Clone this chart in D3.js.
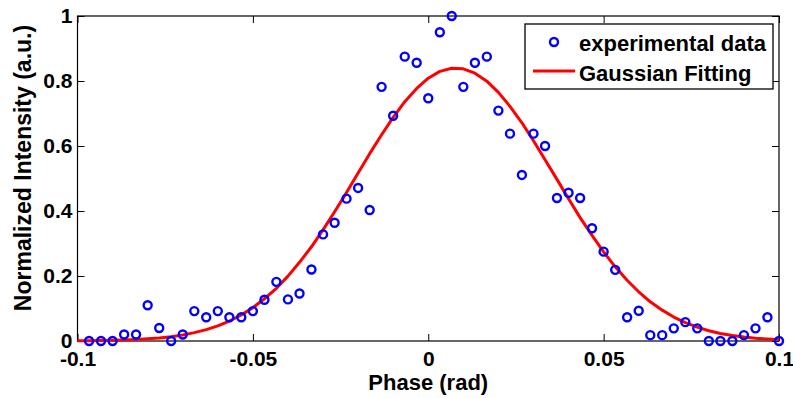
<!DOCTYPE html>
<html>
<head>
<meta charset="utf-8">
<script src="https://cdn.jsdelivr.net/npm/d3@7"></script>
<style>
  html, body { margin: 0; padding: 0; background: #fff; }
  svg { display: block; }
  text { font-family: "Liberation Sans", Arial, sans-serif; font-weight: bold; fill: #000; }
</style>
</head>
<body>
<svg id="chart"></svg>
<script>
// Phase samples (rad) shared by the measurement and the fit
const phase = [
  -0.0967, -0.0933, -0.09, -0.0867, -0.0833, -0.08, -0.0767, -0.0733, -0.07, -0.0667,
  -0.0633, -0.06, -0.0567, -0.0533, -0.05, -0.0467, -0.0433, -0.04, -0.0367, -0.0333,
  -0.03, -0.0267, -0.0233, -0.02, -0.0167, -0.0133, -0.01, -0.0067, -0.0033, 0,
  0.0033, 0.0067, 0.01, 0.0133, 0.0167, 0.02, 0.0233, 0.0267, 0.03, 0.0333,
  0.0367, 0.04, 0.0433, 0.0467, 0.05, 0.0533, 0.0567, 0.06, 0.0633, 0.0667,
  0.07, 0.0733, 0.0767, 0.08, 0.0833, 0.0867, 0.09, 0.0933, 0.0967, 0.1
];

// Measured normalized intensity (blue circles)
const experimental = [
  0, 0, 0, 0.02, 0.02, 0.11, 0.04, 0, 0.02, 0.092,
  0.073, 0.092, 0.073, 0.073, 0.092, 0.127, 0.182, 0.128, 0.146, 0.22,
  0.328, 0.364, 0.438, 0.471, 0.403, 0.782, 0.693, 0.875, 0.856, 0.747,
  0.95, 1.0, 0.782, 0.856, 0.875, 0.709, 0.638, 0.511, 0.638, 0.6,
  0.44, 0.456, 0.44, 0.347, 0.275, 0.219, 0.073, 0.093, 0.018, 0.018,
  0.039, 0.058, 0.039, 0, 0, 0, 0.018, 0.039, 0.073, 0
];

// Gaussian fit (red line), read at the same phases, plus the left edge
const fitPhase = [-0.1].concat(phase);
const fitted = [
  0.0006,
  0.0009, 0.0014, 0.0021, 0.0031, 0.0045, 0.0066, 0.0094, 0.0134, 0.0187, 0.0257,
  0.0349, 0.0466, 0.0615, 0.0801, 0.1027, 0.13, 0.1623, 0.1996, 0.2421, 0.2899,
  0.342, 0.3979, 0.4566, 0.5166, 0.5764, 0.6344, 0.6882, 0.7363, 0.777, 0.8085,
  0.8295, 0.8393, 0.8374, 0.824, 0.7994, 0.7649, 0.7218, 0.6715, 0.6161, 0.5575,
  0.4973, 0.4376, 0.3797, 0.3248, 0.2741, 0.2281, 0.1871, 0.1514, 0.1207, 0.0949,
  0.0737, 0.0564, 0.0425, 0.0316, 0.0232, 0.0168, 0.012, 0.0084, 0.0058, 0.004
];

const xTicks = [-0.1, -0.05, 0, 0.05, 0.1];
const xTickLabels = ['-0.1', '-0.05', '0', '0.05', '0.1'];
const yTicks = [0, 0.2, 0.4, 0.6, 0.8, 1];
const yTickLabels = ['0', '0.2', '0.4', '0.6', '0.8', '1'];

const legendLabels = ['experimental data', 'Gaussian Fitting'];

(function() {
  'use strict';

  const width = 793;
  const height = 398;
  const plot = { left: 77.5, right: 779, top: 16, bottom: 341 };
  const tickLen = 7;

  const svg = d3.select('#chart')
    .attr('width', width)
    .attr('height', height);

  svg.append('rect')
    .attr('width', width)
    .attr('height', height)
    .style('fill', '#fff');

  const x = d3.scaleLinear().domain([-0.1, 0.1]).range([plot.left, plot.right]);
  const y = d3.scaleLinear().domain([0, 1]).range([plot.bottom, plot.top]);

  // ---- axes (inward ticks on all four sides) ----
  const bottomAxis = d3.axisBottom(x).tickValues(xTicks)
    .tickSize(-tickLen).tickPadding(10)
    .tickFormat((d, i) => xTickLabels[i]);
  const topAxis = d3.axisTop(x).tickValues(xTicks)
    .tickSize(-tickLen).tickFormat('');
  const leftAxis = d3.axisLeft(y).tickValues(yTicks)
    .tickSize(-tickLen).tickPadding(5)
    .tickFormat((d, i) => yTickLabels[i]);
  const rightAxis = d3.axisRight(y).tickValues(yTicks)
    .tickSize(-tickLen).tickFormat('');

  function styleAxis(g) {
    g.select('.domain').remove();
    g.selectAll('.tick line').style('stroke', '#000').style('stroke-width', 1);
    g.selectAll('.tick text')
      .style('font-size', '21px')
      .style('font-family', '"Liberation Sans", Arial, sans-serif')
      .style('font-weight', 'bold')
      .style('fill', '#000');
  }

  svg.append('g').attr('transform', `translate(0,${plot.bottom})`).call(bottomAxis).call(styleAxis);
  svg.append('g').attr('transform', `translate(0,${plot.top})`).call(topAxis).call(styleAxis);
  svg.append('g').attr('transform', `translate(${plot.left},0)`).call(leftAxis).call(styleAxis);
  svg.append('g').attr('transform', `translate(${plot.right},0)`).call(rightAxis).call(styleAxis);

  // frame
  svg.append('rect')
    .attr('x', plot.left)
    .attr('y', plot.top)
    .attr('width', plot.right - plot.left)
    .attr('height', plot.bottom - plot.top)
    .style('fill', 'none')
    .style('stroke', '#000')
    .style('stroke-width', 1.2);

  // ---- Gaussian fit ----
  const line = d3.line()
    .x((d, i) => x(fitPhase[i]))
    .y(d => y(d));

  svg.append('path')
    .datum(fitted)
    .attr('d', line)
    .style('fill', 'none')
    .style('stroke', '#ff0000')
    .style('stroke-width', 3)
    .style('stroke-linejoin', 'round');

  // ---- experimental points ----
  svg.append('g')
    .selectAll('circle')
    .data(experimental)
    .join('circle')
    .attr('cx', (d, i) => x(phase[i]))
    .attr('cy', d => y(d))
    .attr('r', 4)
    .style('fill', 'none')
    .style('stroke', '#0000ff')
    .style('stroke-width', 2.4);

  // ---- axis titles ----
  svg.append('text')
    .attr('x', x(0))
    .attr('y', 390)
    .attr('text-anchor', 'middle')
    .style('font-size', '22px')
    .text('Phase (rad)');

  svg.append('text')
    .attr('transform', 'translate(31,168) rotate(-90)')
    .attr('text-anchor', 'middle')
    .style('font-size', '23px')
    .text('Normalized Intensity (a.u.)');

  // ---- legend ----
  const legend = svg.append('g').attr('transform', 'translate(525,24)');

  legend.append('rect')
    .attr('width', 248)
    .attr('height', 65)
    .style('fill', '#fff')
    .style('stroke', '#000')
    .style('stroke-width', 1.3);

  legend.append('circle')
    .attr('cx', 29)
    .attr('cy', 18)
    .attr('r', 4)
    .style('fill', 'none')
    .style('stroke', '#0000ff')
    .style('stroke-width', 2.4);

  legend.append('line')
    .attr('x1', 8)
    .attr('x2', 50)
    .attr('y1', 47)
    .attr('y2', 47)
    .style('stroke', '#ff0000')
    .style('stroke-width', 3);

  legend.selectAll('text.label')
    .data(legendLabels)
    .join('text')
    .attr('class', 'label')
    .attr('x', 54)
    .attr('y', (d, i) => 27 + i * 30)
    .style('font-size', '22px')
    .text(d => d);
})();
</script>
</body>
</html>
